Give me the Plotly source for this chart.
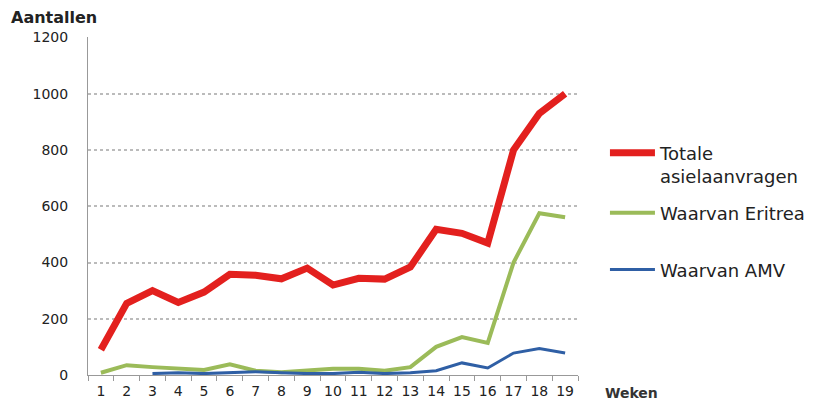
import plotly.graph_objects as go

weeks = [str(i) for i in range(1, 20)]
totale = [90, 255, 300, 258, 295, 358, 355, 342, 380, 320, 344, 341, 384, 518, 504, 469, 800, 930, 1000]
eritrea = [8, 35, 28, 22, 18, 38, 15, 10, 15, 22, 22, 15, 28, 100, 135, 114, 400, 575, 561]
amv = [None, None, 5, 8, 5, 8, 12, 8, 5, 5, 10, 5, 8, 15, 43, 25, 78, 94, 78]

y_ticks = [0, 200, 400, 600, 800, 1000, 1200]

fig = go.Figure()
fig.add_trace(go.Scatter(x=weeks, y=totale, mode="lines", name="Totale<br>asielaanvragen",
                         line=dict(color="#E3201E", width=7), legend="legend"))
fig.add_trace(go.Scatter(x=weeks, y=eritrea, mode="lines", name="Waarvan Eritrea",
                         line=dict(color="#9BBB59", width=4), legend="legend2"))
fig.add_trace(go.Scatter(x=weeks, y=amv, mode="lines", name="Waarvan AMV",
                         line=dict(color="#2F5FA5", width=3), legend="legend3"))

leg_common = dict(xanchor="left", yanchor="middle", font=dict(size=18, color="#222"),
                  itemwidth=45, bgcolor="rgba(0,0,0,0)", valign="top")

fig.update_layout(
    width=813, height=400,
    margin=dict(l=88, r=235, t=37, b=25, autoexpand=False),
    paper_bgcolor="white", plot_bgcolor="white",
    font=dict(family="DejaVu Sans", size=14, color="#222"),
    showlegend=True,
    legend=dict(x=1.055, y=0.623, **leg_common),
    legend2=dict(x=1.055, y=0.479, **leg_common),
    legend3=dict(x=1.055, y=0.311, **leg_common),
    xaxis=dict(type="category", range=[-0.5, 18.5], showgrid=False, showline=True,
               linecolor="#999", ticks="outside", tickson="boundaries", ticklen=5,
               tickcolor="#999", tickfont=dict(size=14, color="#222"), tickangle=0,
               ticklabelstandoff=3, automargin=False),
    yaxis=dict(range=[0, 1202], tickvals=y_ticks, showgrid=True, gridcolor="#bbb",
               griddash="dot", gridwidth=1.5, showline=True, linecolor="#999",
               zeroline=False, ticks="", tickfont=dict(size=14, color="#222"),
               ticklabelstandoff=16, automargin=False),
    annotations=[
        dict(text="<b>Aantallen</b>", xref="paper", yref="paper", x=-0.161, y=1.0, yshift=8,
             xanchor="left", yanchor="bottom", showarrow=False,
             font=dict(size=16, color="#222")),
        dict(text="<b>Weken</b>", xref="paper", yref="paper", x=1.052, y=0, yshift=-8,
             xanchor="left", yanchor="top", showarrow=False,
             font=dict(size=14, color="#333")),
    ],
)

fig.write_html("out.html", config={"displayModeBar": False},
               post_script="document.body.style.margin='0';document.body.style.overflow='hidden';")
